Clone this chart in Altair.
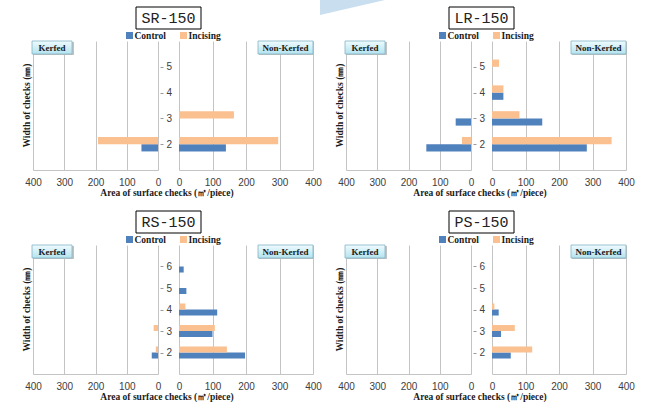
import altair as alt
import pandas as pd

# ---------------- data ----------------
samples = ["SR-150", "LR-150", "RS-150", "PS-150"]
sides = ["Kerfed", "Non-Kerfed"]
treatments = ["Control", "Incising"]
widths = [2, 3, 4, 5, 6]          # width of checks (mm)
x_ticks = [0, 100, 200, 300, 400]
y_ticks_top = [2, 3, 4, 5]
y_ticks_bottom = [2, 3, 4, 5, 6]

# area of surface checks (m2/piece) for widths 2..6
sr_kerfed_control = [53, 0, 0, 0, 0]
sr_kerfed_incising = [192, 0, 0, 0, 0]
sr_nonkerfed_control = [140, 0, 0, 0, 0]
sr_nonkerfed_incising = [296, 164, 0, 0, 0]

lr_kerfed_control = [143, 49, 0, 0, 0]
lr_kerfed_incising = [29, 0, 0, 0, 0]
lr_nonkerfed_control = [283, 150, 34, 0, 0]
lr_nonkerfed_incising = [357, 82, 34, 21, 0]

rs_kerfed_control = [20, 0, 0, 0, 0]
rs_kerfed_incising = [7, 14, 0, 0, 0]
rs_nonkerfed_control = [197, 100, 114, 22, 14]
rs_nonkerfed_incising = [143, 107, 19, 0, 0]

ps_kerfed_control = [0, 0, 0, 0, 0]
ps_kerfed_incising = [0, 0, 0, 0, 0]
ps_nonkerfed_control = [56, 27, 20, 0, 0]
ps_nonkerfed_incising = [120, 68, 7, 0, 0]

series = [
    ("SR-150", "Kerfed", "Control", sr_kerfed_control),
    ("SR-150", "Kerfed", "Incising", sr_kerfed_incising),
    ("SR-150", "Non-Kerfed", "Control", sr_nonkerfed_control),
    ("SR-150", "Non-Kerfed", "Incising", sr_nonkerfed_incising),
    ("LR-150", "Kerfed", "Control", lr_kerfed_control),
    ("LR-150", "Kerfed", "Incising", lr_kerfed_incising),
    ("LR-150", "Non-Kerfed", "Control", lr_nonkerfed_control),
    ("LR-150", "Non-Kerfed", "Incising", lr_nonkerfed_incising),
    ("RS-150", "Kerfed", "Control", rs_kerfed_control),
    ("RS-150", "Kerfed", "Incising", rs_kerfed_incising),
    ("RS-150", "Non-Kerfed", "Control", rs_nonkerfed_control),
    ("RS-150", "Non-Kerfed", "Incising", rs_nonkerfed_incising),
    ("PS-150", "Kerfed", "Control", ps_kerfed_control),
    ("PS-150", "Kerfed", "Incising", ps_kerfed_incising),
    ("PS-150", "Non-Kerfed", "Control", ps_nonkerfed_control),
    ("PS-150", "Non-Kerfed", "Incising", ps_nonkerfed_incising),
]

rows = []
for s, side, t, vals in series:
    for w, a in zip(widths, vals):
        rows.append({"sample": s, "side": side, "treatment": t, "width": w, "area": a})
df = pd.DataFrame(rows)

y_title = "Width of checks (㎜)"
x_title = "Area of surface checks (㎡/piece)"

# ---------------- style ----------------
BLUE = "#4F81BD"
ORANGE = "#FAC090"
GRID = "#c4c4c4"
SERIF = "Liberation Serif"
SANS = "Liberation Sans"
LW, RW, H = 125, 134, 129
BAR = 0.28

box_fill = alt.Gradient(
    gradient="linear",
    stops=[alt.GradientStop(color="#effbfe", offset=0),
           alt.GradientStop(color="#b3e3ef", offset=1)],
    x1=0, x2=0, y1=0, y2=1,
)

one = pd.DataFrame({"k": [0]})


def rect(x, x2, y, y2, **kw):
    return alt.Chart(one).mark_rect(**kw).encode(
        x=alt.value(x), x2=alt.value(x2), y=alt.value(y), y2=alt.value(y2)
    )


def text(label, x, y, **kw):
    return alt.Chart(pd.DataFrame({"label": [label]})).mark_text(**kw).encode(
        x=alt.value(x), y=alt.value(y), text="label:N"
    )


def bars(sample, side, ymax, yticks):
    sub = df[(df["sample"] == sample) & (df["side"] == side) & (df["area"] > 0)]
    kerfed = side == "Kerfed"
    xaxis = alt.Axis(
        values=x_ticks, grid=True, gridColor=GRID, gridWidth=1,
        domain=True, domainColor=GRID, ticks=False, labelPadding=7,
        labelFontSize=10, labelColor="#404040", labelFont=SANS,
        labelFlush=False, labelOverlap=False, title=None,
    )
    if kerfed:
        yaxis = alt.Axis(
            orient="right", values=yticks, grid=False, domain=False,
            ticks=True, tickSize=3, tickColor="#9a9a9a", offset=2,
            labelPadding=3, labelFontSize=10, labelColor="#404040",
            labelFont=SANS, title=None,
        )
    else:
        yaxis = None
    return alt.Chart(sub).transform_calculate(
        y0=f"datum.treatment == 'Incising' ? datum.width : datum.width - {BAR}",
        y1=f"datum.treatment == 'Incising' ? datum.width + {BAR} : datum.width",
        zero="0",
    ).mark_rect().encode(
        x=alt.X("area:Q", scale=alt.Scale(domain=[0, 400], reverse=kerfed, nice=False, zero=True), axis=xaxis),
        x2="zero:Q",
        y=alt.Y("y0:Q", scale=alt.Scale(domain=[1, ymax], nice=False, zero=False), axis=yaxis),
        y2="y1:Q",
        color=alt.Color("treatment:N", scale=alt.Scale(domain=treatments, range=[BLUE, ORANGE]), legend=None),
    )


def left_panel(sample, ymax, yticks, extra=None):
    layers = [
        bars(sample, "Kerfed", ymax, yticks),
        text(y_title, -6, H / 2, angle=270, font=SERIF, fontWeight="bold", fontSize=9.5,
             color="#1a1a1a", align="center", baseline="middle"),
        rect(0, 41, 1, 14, color="#c2c2c2"),
        rect(-1, 39, 0, 13, fill=box_fill, stroke="#84b4c4", strokeWidth=0.8),
        text(sides[0], 19, 7, font=SERIF, fontWeight="bold", fontSize=9, color="#1a1a1a",
             align="center", baseline="middle"),
        rect(93, 100, -9, -2, color=BLUE),
        text(treatments[0], 101.5, -5.5, font=SERIF, fontWeight="bold", fontSize=9.5,
             color="#1a1a1a", align="left", baseline="middle"),
    ]
    if extra is not None:
        layers = extra + layers
    return alt.layer(*layers).properties(width=LW, height=H)


def right_panel(sample, ymax, yticks):
    layers = [
        bars(sample, "Non-Kerfed", ymax, yticks),
        rect(-43, 22, -34, -12, fill="white", stroke="black", strokeWidth=1),
        text(sample, -10.5, -23, font="Liberation Mono", fontSize=15, color="#222222",
             align="center", baseline="middle"),
        rect(1, 8, -9, -2, color=ORANGE),
        text(treatments[1], 9.5, -5.5, font=SERIF, fontWeight="bold", fontSize=9.5,
             color="#1a1a1a", align="left", baseline="middle"),
        rect(80, 135, 1, 14, color="#c2c2c2"),
        rect(79, 134, 0, 13, fill=box_fill, stroke="#84b4c4", strokeWidth=0.8),
        text(sides[1], 106.5, 7, font=SERIF, fontWeight="bold", fontSize=9, color="#1a1a1a",
             align="center", baseline="middle"),
        text(x_title, -12, H + 23, font=SERIF, fontWeight="bold", fontSize=9.5,
             color="#1a1a1a", align="center", baseline="middle"),
    ]
    return alt.layer(*layers).properties(width=RW, height=H)


def spacer(w):
    return alt.Chart(one).mark_text(text="").encode(
        x=alt.value(0), y=alt.value(0)
    ).properties(width=w, height=H)


# anchor so the first panel lands at (33, 41)
anchor = [rect(-33, -32, -41, -40, color="white")]
# decorative slide swoosh at top
swoosh = [alt.Chart(one).mark_point(
    shape="M-1,-1 L1,-1 L-1,-0.54 Z",
    filled=True, color="#c9dff0", opacity=1, size=4225, strokeWidth=0,
).encode(x=alt.value(6.5), y=alt.value(-8.5))]

panels = [
    left_panel("SR-150", 6, y_ticks_top, anchor), spacer(21), right_panel("SR-150", 6, y_ticks_top), spacer(33),
    left_panel("LR-150", 6, y_ticks_top, swoosh), spacer(21), right_panel("LR-150", 6, y_ticks_top),
    left_panel("RS-150", 7, y_ticks_bottom), spacer(21), right_panel("RS-150", 7, y_ticks_bottom), spacer(33),
    left_panel("PS-150", 7, y_ticks_bottom), spacer(21), right_panel("PS-150", 7, y_ticks_bottom),
]

chart = alt.concat(
    *panels, columns=7, spacing={"row": 75, "column": 0}, bounds="flush", align="each"
).resolve_scale(
    x="independent", y="independent"
).properties(
    padding=0, background="white"
).configure_view(stroke=None)

chart.save("out.html", embed_options={"renderer": "svg", "actions": False})
